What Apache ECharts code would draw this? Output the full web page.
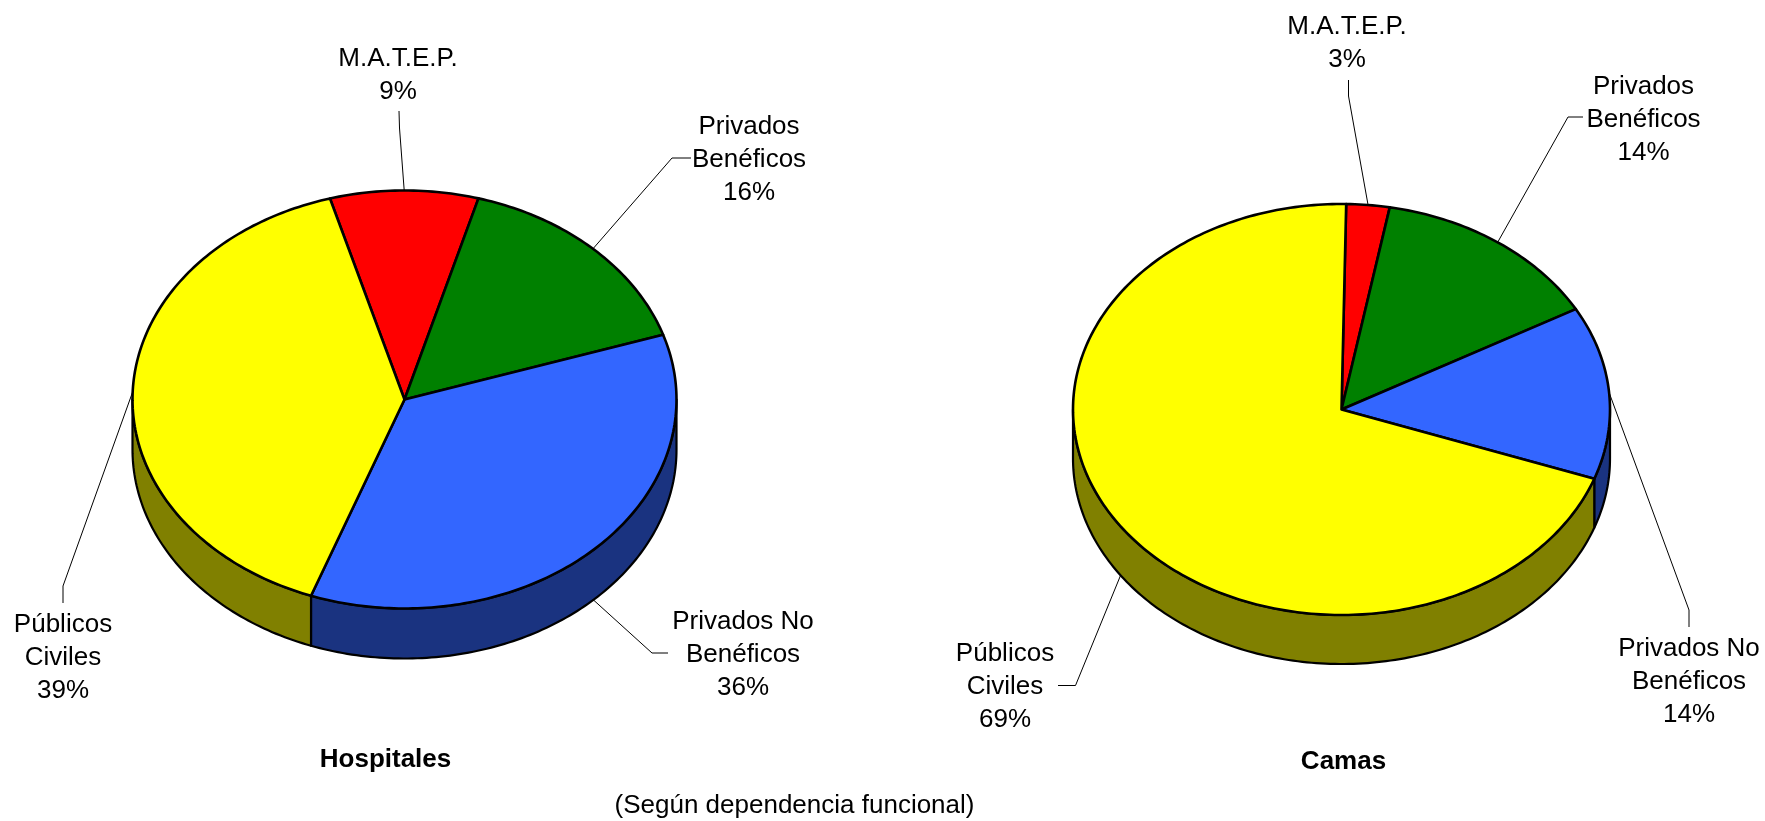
<!DOCTYPE html>
<html>
<head>
<meta charset="utf-8">
<title>Hospitales y camas</title>
<style>
html, body { margin: 0; padding: 0; background: #fff; }
#chart { width: 1765px; height: 821px; }
</style>
<script src="https://cdn.jsdelivr.net/npm/echarts@6/dist/echarts.min.js"></script>
</head>
<body>
<div id="chart"></div>
<script>
// slice order, clockwise from the first red edge
const categories = ['M.A.T.E.P.', 'Privados\nBenéficos', 'Privados No\nBenéficos', 'Públicos\nCiviles'];
// slice sizes (share of the ellipse)
const hospitalesValues = [8.8, 15.6, 35.6, 40.0];
const camasValues = [2.6, 14.0, 13.6, 69.8];
// printed labels
const hospitalesLabels = ['9%', '16%', '36%', '39%'];
const camasLabels = ['3%', '14%', '14%', '69%'];

const topColors = ['#ff0000', '#008000', '#3366ff', '#ffff00'];
const sideColors = ['#800000', '#004000', '#1a3380', '#808000'];
const FONT = '"Liberation Sans", Arial, sans-serif';

// layout of each pie: ellipse, thickness, first edge, label centres, leader elbows
const hospitalesLayout = {
    cx: 404.5, cy: 399.5, rx: 272, ry: 209, depth: 50, start: -15.9,
    labelPos: [[398, 75.5], [749, 160], [743, 655], [63, 658]],
    leader: [
        [[399, 111], [399.5, 128]],
        [[691, 158], [672, 158]],
        [[668, 653], [652, 653]],
        [[63, 603], [63, 586]]
    ]
};
const camasLayout = {
    cx: 1341.5, cy: 409.5, rx: 268.5, ry: 205.5, depth: 49, start: 1,
    labelPos: [[1347, 43], [1643.5, 120], [1689, 682], [1005, 687]],
    leader: [
        [[1348.5, 80], [1348.5, 96]],
        [[1583, 117], [1568, 117]],
        [[1689, 627], [1689, 610]],
        [[1058, 685.5], [1075.5, 685.5]]
    ]
};

function rimPoint(p, deg, drop) {
    const t = deg * Math.PI / 180;
    return [p.cx + p.rx * Math.sin(t), p.cy - p.ry * Math.cos(t) + (drop || 0)];
}

function arcPoints(p, from, to, drop) {
    const pts = [];
    const n = Math.max(2, Math.ceil(Math.abs(to - from)));
    for (let i = 0; i <= n; i++) {
        pts.push(rimPoint(p, from + (to - from) * i / n, drop));
    }
    return pts;
}

function pieSeries(name, values, labels, layout) {
    const total = values.reduce((a, b) => a + b, 0);
    return {
        type: 'custom',
        name: name,
        coordinateSystem: 'none',
        silent: true,
        data: values.map(v => [v]),
        renderItem: function (params, api) {
            const i = params.dataIndex;
            let before = 0;
            for (let k = 0; k < i; k++) before += values[k];
            const a0 = layout.start + before / total * 360;
            const a1 = a0 + api.value(0) / total * 360;
            const mid = (a0 + a1) / 2;
            const children = [];

            // wall of the disc, only the front half can be seen
            const s0 = Math.max(a0, 90);
            const s1 = Math.min(a1, 270);
            if (s1 > s0) {
                const wall = arcPoints(layout, s0, s1, 0).concat(arcPoints(layout, s1, s0, layout.depth));
                children.push({
                    type: 'polygon',
                    z2: 1,
                    shape: { points: wall },
                    style: { fill: sideColors[i], stroke: '#000', lineWidth: 2.2, lineJoin: 'round' }
                });
            }

            // top face
            children.push({
                type: 'polygon',
                z2: 5,
                shape: { points: [[layout.cx, layout.cy]].concat(arcPoints(layout, a0, a1, 0)) },
                style: { fill: topColors[i], stroke: '#000', lineWidth: 2.6, lineJoin: 'round' }
            });

            // leader line ends on the rim, or on the wall edge for the front half
            const front = mid > 90 && mid < 270;
            children.push({
                type: 'polyline',
                z2: 3,
                shape: { points: layout.leader[i].concat([rimPoint(layout, mid, front ? layout.depth : 0)]) },
                style: { fill: null, stroke: '#000', lineWidth: 1 }
            });

            children.push({
                type: 'text',
                z2: 6,
                style: {
                    text: categories[i] + '\n' + labels[i],
                    x: layout.labelPos[i][0],
                    y: layout.labelPos[i][1],
                    align: 'center',
                    verticalAlign: 'middle',
                    font: '26px ' + FONT,
                    lineHeight: 33,
                    fill: '#000'
                }
            });
            return { type: 'group', children: children };
        }
    };
}

const chart = echarts.init(document.getElementById('chart'));
chart.setOption({
    animation: false,
    backgroundColor: '#fff',
    title: [
        { text: 'Hospitales', left: 380.5, top: 742, textAlign: 'center',
          textStyle: { fontFamily: FONT, fontSize: 26, fontWeight: 'bold', color: '#000' } },
        { text: 'Camas', left: 1338.5, top: 744, textAlign: 'center',
          textStyle: { fontFamily: FONT, fontSize: 26, fontWeight: 'bold', color: '#000' } },
        { text: '(Según dependencia funcional)', left: 789.5, top: 788, textAlign: 'center',
          textStyle: { fontFamily: FONT, fontSize: 26, fontWeight: 'normal', color: '#000' } }
    ],
    series: [
        pieSeries('Hospitales', hospitalesValues, hospitalesLabels, hospitalesLayout),
        pieSeries('Camas', camasValues, camasLabels, camasLayout)
    ]
});
</script>
</body>
</html>
